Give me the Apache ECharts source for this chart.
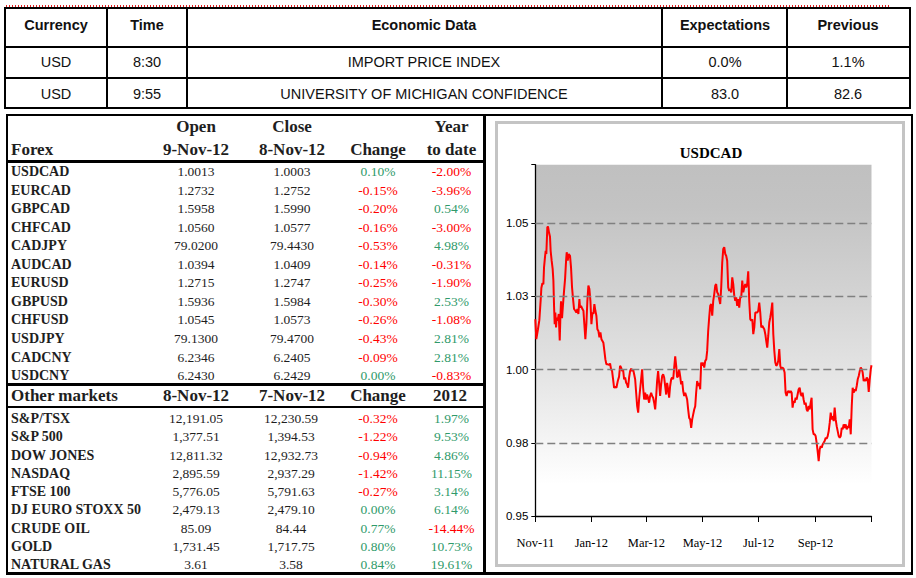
<!DOCTYPE html>
<html>
<head>
<meta charset="utf-8">
<script src="https://cdn.jsdelivr.net/npm/echarts@6/dist/echarts.min.js"></script>
<style>
  html, body { margin: 0; padding: 0; background: #fff; }
  #page { position: relative; width: 916px; height: 578px; overflow: hidden; background: #fff; }
  .t { position: absolute; white-space: nowrap; line-height: 1; }
  .ln { position: absolute; background: #000; }
  #chart { position: absolute; left: 498px; top: 124px; width: 404px; height: 440px; }
</style>
</head>
<body>
<div id="page"><div id="chart"></div></div>
<script>
// ---------------- DATA ----------------
const topHeaders = ['Currency', 'Time', 'Economic Data', 'Expectations', 'Previous'];
const topCurrency = ['USD', 'USD'];
const topTime = ['8:30', '9:55'];
const topEvent = ['IMPORT PRICE INDEX', 'UNIVERSITY OF MICHIGAN CONFIDENCE'];
const topExpect = ['0.0%', '83.0'];
const topPrev = ['1.1%', '82.6'];

const fxHeaderTop = ['', 'Open', 'Close', '', 'Year'];
const fxHeaderBottom = ['Forex', '9-Nov-12', '8-Nov-12', 'Change', 'to date'];
const fxNames = ['USDCAD', 'EURCAD', 'GBPCAD', 'CHFCAD', 'CADJPY', 'AUDCAD', 'EURUSD', 'GBPUSD', 'CHFUSD', 'USDJPY', 'CADCNY', 'USDCNY'];
const fxOpen = ['1.0013', '1.2732', '1.5958', '1.0560', '79.0200', '1.0394', '1.2715', '1.5936', '1.0545', '79.1300', '6.2346', '6.2430'];
const fxClose = ['1.0003', '1.2752', '1.5990', '1.0577', '79.4430', '1.0409', '1.2747', '1.5984', '1.0573', '79.4700', '6.2405', '6.2429'];
const fxChange = ['0.10%', '-0.15%', '-0.20%', '-0.16%', '-0.53%', '-0.14%', '-0.25%', '-0.30%', '-0.26%', '-0.43%', '-0.09%', '0.00%'];
const fxYtd = ['-2.00%', '-3.96%', '0.54%', '-3.00%', '4.98%', '-0.31%', '-1.90%', '2.53%', '-1.08%', '2.81%', '2.81%', '-0.83%'];

const mkHeader = ['Other markets', '8-Nov-12', '7-Nov-12', 'Change', '2012'];
const mkNames = ['S&P/TSX', 'S&P 500', 'DOW JONES', 'NASDAQ', 'FTSE 100', 'DJ EURO STOXX 50', 'CRUDE OIL', 'GOLD', 'NATURAL GAS'];
const mkLast = ['12,191.05', '1,377.51', '12,811.32', '2,895.59', '5,776.05', '2,479.13', '85.09', '1,731.45', '3.61'];
const mkPrev = ['12,230.59', '1,394.53', '12,932.73', '2,937.29', '5,791.63', '2,479.10', '84.44', '1,717.75', '3.58'];
const mkChange = ['-0.32%', '-1.22%', '-0.94%', '-1.42%', '-0.27%', '0.00%', '0.77%', '0.80%', '0.84%'];
const mkYtd = ['1.97%', '9.53%', '4.86%', '11.15%', '3.14%', '6.14%', '-14.44%', '10.73%', '19.61%'];

// USDCAD chart: days since 1-Nov-2011 and rate
const chartTitle = 'USDCAD';
const dayOffsets = [
  0.0,1.1,2.9,4.4,5.8,6.6,7.7,8.8,9.5,10.6,11.3,12.0,13.1,13.8,14.9,16.0,16.7,17.8,18.9,19.7,
  20.4,21.1,21.8,22.6,23.3,24.4,25.5,26.6,27.3,28.0,29.1,30.2,31.3,32.4,33.5,34.2,35.3,36.4,37.8,38.9,
  40.0,41.1,42.2,43.6,44.7,45.8,46.9,48.0,48.7,49.8,51.3,52.4,53.4,54.5,55.6,56.7,57.8,58.9,60.0,61.1,
  62.2,63.3,64.3,65.4,66.5,67.6,68.7,69.8,70.9,72.0,73.1,74.1,75.2,76.3,77.4,78.9,80.3,81.4,82.5,83.6,
  84.7,85.8,86.9,88.3,89.8,91.2,92.3,93.4,94.5,95.6,96.7,97.8,98.9,99.9,101.0,102.1,103.2,104.3,105.4,106.5,
  107.6,108.7,109.8,110.9,112.0,113.0,114.1,115.2,116.3,117.4,118.5,119.6,120.7,121.7,122.8,123.9,125.0,126.1,127.2,128.3,
  129.4,130.5,131.6,132.6,133.7,134.8,135.9,137.0,138.1,139.2,140.3,141.4,142.5,143.5,144.6,145.7,146.8,147.9,149.0,150.1,
  151.2,152.3,153.4,154.4,155.5,156.6,157.7,158.8,159.9,161.0,162.1,163.2,164.3,165.3,166.4,167.5,168.6,169.7,170.8,171.9,
  173.0,174.1,175.1,176.2,177.3,178.4,179.5,180.6,181.7,182.8,183.9,185.0,186.1,187.1,188.2,189.3,190.4,191.5,192.6,193.7,
  194.8,195.9,196.9,198.0,199.1,200.2,201.3,202.4,203.5,204.6,205.7,206.8,207.8,208.9,210.0,211.1,212.2,213.3,214.4,215.5,
  216.6,217.7,218.7,219.8,220.9,222.0,223.1,224.2,225.3,226.4,227.5,228.6,229.6,230.7,231.8,232.9,234.0,235.1,236.2,237.3,
  238.4,239.5,240.5,241.6,242.7,243.8,244.9,246.0,247.1,248.2,249.3,250.4,251.4,252.5,253.6,254.7,255.8,256.9,258.0,259.1,
  260.2,261.3,262.3,263.4,264.5,265.6,266.7,267.8,268.9,270.3,271.4,272.5,273.6,274.7,275.8,276.9,278.0,279.1,280.1,281.2,
  282.3,283.4,284.5,285.6,286.7,287.8,288.9,290.0,291.0,292.1,293.2,294.3,295.4,296.5,297.6,298.7,299.8,300.8,301.9,303.0,
  304.1,305.2,306.3,307.4,308.5,309.6,310.7,311.8,312.8,313.9,315.0,316.1,317.2,318.3,319.4,320.5,321.6,322.7,323.7,324.8,
  325.9,327.0,328.1,329.2,330.3,331.4,332.5,333.6,334.6,335.7,336.8,337.9,339.0,340.1,341.2,342.3,343.4,344.5,345.5,346.6,
  347.7,348.8,349.9,351.0,352.1,353.2,354.3,355.4,356.4,357.5,358.6,359.7,360.8,361.9,363.0,364.1,365.2,366.0
];
const usdcad = [
  1.0172,1.0104,1.0138,1.0169,1.0235,1.0279,1.0295,1.0292,1.0349,1.0386,1.0406,1.0395,1.0486,1.0489,1.0469,1.0454,1.0406,1.0372,1.0344,1.0304,
  1.0218,1.0155,1.0195,1.0144,1.0178,1.0167,1.0190,1.0100,1.0178,1.0233,1.0176,1.0224,1.0269,1.0309,1.0372,1.0401,1.0372,1.0395,1.0389,1.0349,
  1.0281,1.0241,1.0207,1.0201,1.0195,1.0207,1.0190,1.0241,1.0212,1.0218,1.0207,1.0201,1.0155,1.0104,1.0155,1.0235,1.0287,1.0275,1.0235,1.0155,
  1.0195,1.0190,1.0224,1.0201,1.0184,1.0138,1.0132,1.0110,1.0127,1.0104,1.0098,1.0092,1.0064,1.0035,1.0018,1.0018,1.0016,1.0021,1.0001,0.9995,
  0.9967,0.9938,0.9942,0.9938,0.9961,0.9976,1.0013,1.0007,0.9995,0.9999,0.9967,0.9973,0.9955,0.9950,0.9938,0.9973,0.9995,1.0003,0.9995,1.0001,
  0.9984,0.9967,0.9921,0.9875,0.9853,0.9898,0.9933,0.9967,1.0001,0.9938,0.9898,0.9921,0.9898,0.9915,0.9904,0.9887,0.9910,0.9921,0.9910,0.9904,
  0.9887,0.9864,0.9910,0.9961,0.9995,0.9955,0.9910,0.9950,0.9978,0.9984,0.9973,0.9944,0.9915,0.9955,0.9933,0.9904,0.9944,0.9967,0.9973,0.9967,
  1.0007,1.0045,1.0013,0.9973,0.9978,1.0001,0.9978,0.9950,0.9961,0.9927,0.9910,0.9921,0.9910,0.9898,0.9864,0.9835,0.9830,0.9801,0.9830,0.9847,
  0.9864,0.9875,0.9921,0.9961,0.9944,0.9955,0.9933,1.0024,1.0013,1.0024,1.0007,1.0030,1.0035,1.0064,1.0132,1.0178,1.0218,1.0224,1.0184,1.0235,
  1.0258,1.0287,1.0292,1.0264,1.0258,1.0241,1.0224,1.0281,1.0366,1.0412,1.0418,1.0395,1.0389,1.0372,1.0281,1.0269,1.0275,1.0264,1.0315,1.0292,
  1.0252,1.0235,1.0247,1.0218,1.0241,1.0212,1.0247,1.0247,1.0304,1.0264,1.0281,1.0292,1.0281,1.0292,1.0336,1.0235,1.0172,1.0167,1.0172,1.0121,
  1.0144,1.0195,1.0195,1.0195,1.0201,1.0229,1.0195,1.0144,1.0150,1.0144,1.0138,1.0121,1.0098,1.0075,1.0115,1.0161,1.0178,1.0201,1.0229,1.0121,
  1.0064,1.0024,1.0013,1.0018,1.0030,1.0070,1.0013,1.0001,1.0007,1.0003,0.9990,0.9921,0.9910,0.9924,0.9927,0.9921,0.9927,0.9921,0.9870,0.9893,
  0.9887,0.9904,0.9898,0.9916,0.9933,0.9938,0.9916,0.9910,0.9921,0.9898,0.9881,0.9887,0.9864,0.9858,0.9876,0.9864,0.9887,0.9904,0.9796,0.9779,
  0.9779,0.9773,0.9750,0.9721,0.9687,0.9727,0.9739,0.9733,0.9744,0.9750,0.9756,0.9767,0.9764,0.9773,0.9790,0.9818,0.9853,0.9830,0.9841,0.9824,
  0.9870,0.9830,0.9807,0.9790,0.9773,0.9767,0.9773,0.9801,0.9796,0.9813,0.9801,0.9813,0.9796,0.9807,0.9801,0.9830,0.9779,0.9876,0.9938,0.9921,
  0.9933,0.9927,0.9944,0.9967,0.9978,0.9995,1.0007,1.0001,0.9990,0.9961,0.9967,0.9961,0.9973,0.9967,0.9924,0.9967,1.0001,1.0015
];
const yTicks = [0.95, 0.975, 1.0, 1.025, 1.05];
const yTickLabels = ['0.95', '0.98', '1.00', '1.03', '1.05'];
const monthNames = ['Jan','Feb','Mar','Apr','May','Jun','Jul','Aug','Sep','Oct','Nov','Dec'];
const xTickLabels = ['Nov-11', 'Jan-12', 'Mar-12', 'May-12', 'Jul-12', 'Sep-12'];

// ---------------- TABLES (HTML) ----------------
const page = document.getElementById('page');
const GREEN = '#2f9a6a', RED = '#ff0000', INK = '#1e1e1e';
function ln(l, t, w, h, c) {
  const d = document.createElement('div');
  d.className = 'ln';
  d.style.left = l + 'px'; d.style.top = t + 'px';
  d.style.width = w + 'px'; d.style.height = h + 'px';
  if (c) d.style.background = c;
  page.appendChild(d);
}
function txt(s, x, y, align, font, color) {
  const d = document.createElement('div');
  d.className = 't';
  d.textContent = s;
  d.style.left = x + 'px'; d.style.top = y + 'px';
  d.style.font = font;
  d.style.color = color || INK;
  d.style.transform = 'translate(' + (align === 'center' ? '-50%' : '0') + ',-50%)';
  page.appendChild(d);
}
const sansB = 'bold 14.5px "Liberation Sans", Arial, sans-serif';
const sans = '14.5px "Liberation Sans", Arial, sans-serif';
const serifHB = 'bold 17px "Liberation Serif", "Times New Roman", serif';
const serifB = 'bold 14px "Liberation Serif", "Times New Roman", serif';
const serif = '13.5px "Liberation Serif", "Times New Roman", serif';

// red dotted rule at top
(function () {
  const d = document.createElement('div');
  d.style.cssText = 'position:absolute;left:6px;top:5px;width:884px;height:1.5px;' +
    'background:repeating-linear-gradient(to right,#e02020 0 1.5px,transparent 1.5px 3px);';
  page.appendChild(d);
})();

// top economic table
const topCols = [56, 147, 424, 725, 848];
[7, 46, 77, 107].forEach(y => ln(4, y, 907, 2));
[4, 106, 186, 661, 786, 909].forEach(x => ln(x, 7, 2, 102));
topHeaders.forEach((h, i) => txt(h, topCols[i], 25, 'center', sansB, '#111'));
[0, 1].forEach(r => {
  const y = r === 0 ? 62 : 93.5;
  [topCurrency[r], topTime[r], topEvent[r], topExpect[r], topPrev[r]]
    .forEach((v, i) => txt(v, topCols[i], y, 'center', sans, '#111'));
});

// lower frame
ln(6, 114, 907, 1.5);
ln(6, 114, 2, 460);
ln(911, 114, 2, 460);
ln(483, 114, 3, 460);
ln(6, 572, 907, 2.5);
ln(7, 160, 477, 2.5);
ln(7, 383, 477, 3);
ln(7, 406, 477, 2);

// chart inner grey frame
(function () {
  const d = document.createElement('div');
  d.style.cssText = 'position:absolute;left:495px;top:121px;width:404px;height:440px;border:3px solid #c4c4c4;';
  page.appendChild(d);
})();

// forex table
const colX = [11, 196, 292, 378, 451.5];
fxHeaderTop.forEach((h, i) => { if (h) txt(h, colX[i], 127, 'center', serifHB); });
fxHeaderBottom.forEach((h, i) => txt(h, colX[i], 150, i === 0 ? 'left' : 'center', serifHB));
const signColor = s => (s.trim().charAt(0) === '-' ? RED : GREEN);
fxNames.forEach((n, r) => {
  const y = 172 + r * 18.55;
  txt(n, colX[0], y, 'left', serifB);
  txt(fxOpen[r], colX[1], y, 'center', serif);
  txt(fxClose[r], colX[2], y, 'center', serif);
  txt(fxChange[r], colX[3], y, 'center', serif, signColor(fxChange[r]));
  txt(fxYtd[r], colX[4], y, 'center', serif, signColor(fxYtd[r]));
});
// other markets
mkHeader.forEach((h, i) => txt(h, i === 4 ? 450 : colX[i], 396, i === 0 ? 'left' : 'center', serifHB));
mkNames.forEach((n, r) => {
  const y = 419 + r * 18.25;
  txt(n, colX[0], y, 'left', serifB);
  txt(mkLast[r], colX[1], y, 'center', serif);
  txt(mkPrev[r], colX[2] - 1, y, 'center', serif);
  txt(mkChange[r], colX[3], y, 'center', serif, signColor(mkChange[r]));
  txt(mkYtd[r], colX[4], y, 'center', serif, signColor(mkYtd[r]));
});

// ---------------- CHART (ECharts) ----------------
const DAY = 86400000;
const base = new Date(2011, 10, 1).getTime();
const lineData = dayOffsets.map((d, i) => [base + d * DAY, usdcad[i]]);

const chart = echarts.init(document.getElementById('chart'), null, { renderer: 'svg' });
chart.setOption({
  animation: false,
  title: {
    text: chartTitle,
    left: 213, top: 21, textAlign: 'center', padding: 0,
    textStyle: { fontFamily: '"Liberation Serif", "Times New Roman", serif', fontWeight: 'bold', fontSize: 15, color: '#000' }
  },
  grid: {
    left: 37.3, right: 30.5, top: 40.7, bottom: 48,
    show: true, borderWidth: 0,
    backgroundColor: {
      type: 'linear', x: 0, y: 0, x2: 0, y2: 1,
      colorStops: [
        { offset: 0, color: '#c0c0c0' },
        { offset: 0.12, color: '#c3c3c3' },
        { offset: 0.37, color: '#d3d3d3' },
        { offset: 0.58, color: '#e3e3e3' },
        { offset: 0.79, color: '#f5f5f5' },
        { offset: 0.91, color: '#ffffff' },
        { offset: 1, color: '#ffffff' }
      ]
    }
  },
  xAxis: {
    type: 'time',
    min: new Date(2011, 10, 1).getTime(),
    max: new Date(2012, 10, 1).getTime(),
    splitNumber: 5,
    axisLine: { show: true, onZero: false, lineStyle: { color: '#000', width: 1.3 } },
    axisTick: { show: true, length: 6, lineStyle: { color: '#000', width: 1 } },
    splitLine: { show: false },
    axisLabel: {
      margin: 20,
      color: '#000',
      fontFamily: '"Liberation Serif", "Times New Roman", serif',
      fontSize: 12.5,
      hideOverlap: false,
      formatter: function (v) {
        const d = new Date(v);
        const s = monthNames[d.getMonth()] + '-' + String(d.getFullYear()).slice(2);
        return xTickLabels.indexOf(s) >= 0 ? s : '';
      }
    }
  },
  yAxis: {
    type: 'value',
    min: 0.95, max: 1.07, interval: 0.025,
    axisLine: { show: true, lineStyle: { color: '#000', width: 1.3 } },
    axisTick: { show: true, length: 4, lineStyle: { color: '#000', width: 1 } },
    splitLine: { show: false },
    axisLabel: {
      margin: 7,
      color: '#000',
      fontFamily: '"Liberation Sans", Arial, sans-serif',
      fontSize: 11.5,
      formatter: function (v) {
        for (let i = 0; i < yTicks.length; i++) {
          if (Math.abs(v - yTicks[i]) < 1e-6) return yTickLabels[i];
        }
        return '';
      }
    }
  },
  series: [
    {
      type: 'line', data: [], z: 1, silent: true,
      markLine: {
        silent: true, symbol: 'none', animation: false, precision: 6,
        label: { show: false },
        lineStyle: { color: '#808080', width: 1.3, type: [8, 4] },
        data: yTicks.slice(1).map(v => ({ yAxis: v }))
      }
    },
    {
      name: chartTitle,
      type: 'line', data: lineData, z: 3,
      showSymbol: false, symbol: 'none',
      lineStyle: { color: '#ff0000', width: 2 },
      itemStyle: { color: '#ff0000' }
    }
  ]
});
</script>
</body>
</html>
